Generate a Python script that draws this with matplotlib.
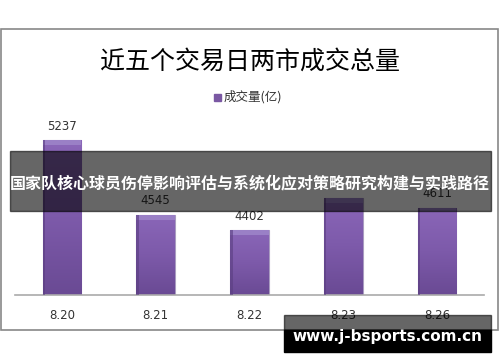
import numpy as np
import matplotlib.pyplot as plt
from matplotlib.patches import Rectangle

plt.rcParams['font.family'] = ['Noto Sans CJK SC', 'DejaVu Sans']

dates = ['8.20', '8.21', '8.22', '8.23', '8.26']
volume = [5237, 4545, 4402, 4700, 4611]
shown = [True, True, True, False, True]  # 8.23 label is hidden under the banner

fig = plt.figure(figsize=(5, 3.62), dpi=100)

# chart frame
fig.patches.append(Rectangle((0.002, 1 - 330 / 362), 0.994, 301 / 362,
                             transform=fig.transFigure, fill=False,
                             edgecolor='#888888', linewidth=1.2))

ax = fig.add_axes([0.03, 0.185, 0.938, 0.506])
x = np.arange(len(dates))
w = 0.41
bars = ax.bar(x, volume, width=w, color='#7a58a3', edgecolor='#a99cc0',
              linewidth=0.8, zorder=2)

# vertical gradient + bevel on each bar
grad = np.linspace(0, 1, 64).reshape(-1, 1)
cmap = plt.matplotlib.colors.LinearSegmentedColormap.from_list(
    'p', ['#6a4a94', '#7d5aaa', '#8a66b8'])
for b in bars:
    x0, x1 = b.get_x(), b.get_x() + b.get_width()
    top = b.get_height()
    im = ax.imshow(grad, extent=(x0, x1, 3800, top), origin='lower',
                   cmap=cmap, aspect='auto', zorder=2.5)
    im.set_clip_path(b)
    ax.add_patch(Rectangle((x0, top - 45), b.get_width(), 45,
                           color='#9a80c6', zorder=2.6, lw=0))
    ax.add_patch(Rectangle((x0, 3800), b.get_width() * 0.06, top - 3800,
                           color='#5a3e80', zorder=2.6, lw=0, alpha=0.6))

for xi, v, s in zip(x, volume, shown):
    if s:
        ax.text(xi, v + 70, str(v), ha='center', va='bottom',
                fontsize=8.5, color='#333333', family=['DejaVu Sans'])

ax.set_ylim(3800, 5500)
ax.set_xlim(-0.5, len(dates) - 0.5)
ax.set_xticks(x)
ax.set_xticklabels(dates, fontsize=8.5, color='#333333', family=['DejaVu Sans'])
ax.tick_params(axis='x', length=0, pad=10)
ax.set_yticks([])
for side in ['top', 'right', 'left']:
    ax.spines[side].set_visible(False)
ax.spines['bottom'].set_color('#aaaaaa')
ax.spines['bottom'].set_linewidth(1.2)

fig.text(0.5, 1 - 62 / 362, '近五个交易日两市成交总量', ha='center', va='center',
         fontsize=18, color='black')

# legend
fig.patches.append(Rectangle((214 / 500, 1 - 101 / 362), 7 / 500, 7 / 362,
                             transform=fig.transFigure, color='#7a58a3'))
fig.text(224 / 500, 1 - 97 / 362, '成交量(亿)', ha='left', va='center',
         fontsize=9, color='#333333')

# banner overlay
fig.patches.append(Rectangle((10 / 500, 1 - 211 / 362), 481 / 500, 60 / 362,
                             transform=fig.transFigure, color='black',
                             alpha=0.6, zorder=10))
fig.text(0.5, 1 - 183 / 362, '国家队核心球员伤停影响评估与系统化应对策略研究构建与实践路径',
         ha='center', va='center', fontsize=11.5, color='white',
         fontweight='bold', zorder=11)

# watermark
fig.patches.append(Rectangle((284 / 500, 1 - 330 / 362), 207 / 500, 15 / 362,
                             transform=fig.transFigure, color='black',
                             alpha=0.6, zorder=10))
fig.patches.append(Rectangle((284 / 500, 1 - 352 / 362), 207 / 500, 22 / 362,
                             transform=fig.transFigure, color='black',
                             zorder=10))
fig.text(387 / 500, 1 - 337 / 362, 'www.j-bsports.com.cn', ha='center',
         va='center', fontsize=11, color='white', fontweight='bold',
         family=['DejaVu Sans'], zorder=11)

fig.savefig('out.png', dpi=100)
